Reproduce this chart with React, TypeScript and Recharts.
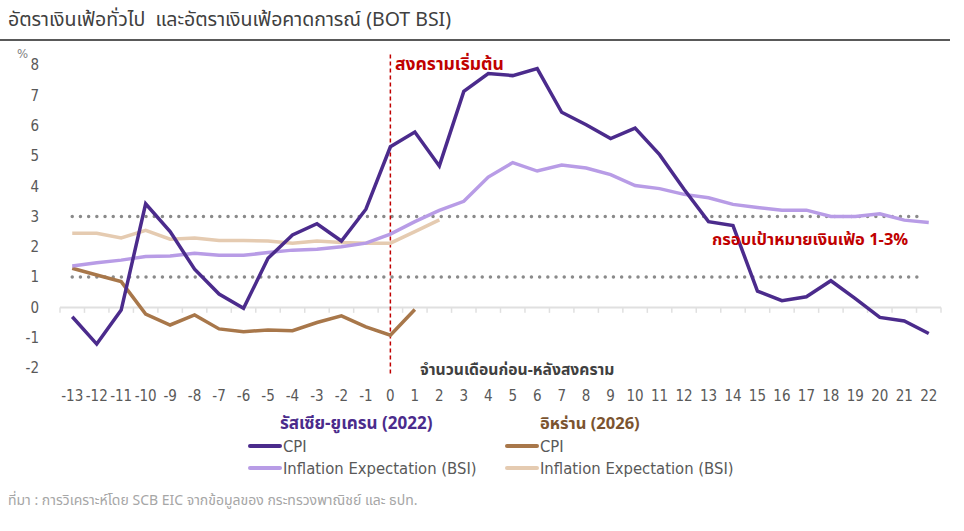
import { LineChart, Line, XAxis, YAxis, ReferenceLine } from 'recharts';

document.body.style.margin = '0';

// months before / after the start of each war
const months = [
  -13, -12, -11, -10, -9, -8, -7, -6, -5, -4, -3, -2, -1, 0, 1, 2, 3, 4,
  5, 6, 7, 8, 9, 10, 11, 12, 13, 14, 15, 16, 17, 18, 19, 20, 21, 22,
];
const yTicks = [-2, -1, 0, 1, 2, 3, 4, 5, 6, 7, 8];

// Russia-Ukraine (2022)
const russiaCpi = [
  -0.31, -1.21, -0.09, 3.42, 2.5, 1.26, 0.44, -0.03, 1.62, 2.39, 2.76, 2.19, 3.24,
  5.3, 5.79, 4.67, 7.13, 7.72, 7.65, 7.88, 6.44, 6.03, 5.57, 5.92, 5.04, 3.9,
  2.83, 2.7, 0.54, 0.22, 0.35, 0.88, 0.29, -0.33, -0.45, -0.86,
];
const russiaBsi = [
  1.37, 1.47, 1.56, 1.68, 1.7, 1.79, 1.72, 1.72, 1.81, 1.89, 1.92, 2.0, 2.12,
  2.42, 2.83, 3.2, 3.5, 4.3, 4.78, 4.5, 4.7, 4.6, 4.38, 4.02, 3.92, 3.73,
  3.62, 3.4, 3.3, 3.21, 3.21, 3.0, 3.0, 3.09, 2.88, 2.8,
];

// Iran (2026)
const iranCpi = [
  1.29, 1.07, 0.85, -0.22, -0.58, -0.25, -0.71, -0.8, -0.75, -0.77, -0.5, -0.28, -0.64,
  -0.92, -0.07,
];
const iranBsi = [
  2.45, 2.45, 2.29, 2.54, 2.25, 2.29, 2.21, 2.21, 2.19, 2.12, 2.19, 2.14, 2.12,
  2.12, 2.5, 2.89,
];

const targetBand = [1, 3];

const data = months.map((m, i) => ({
  m,
  russiaCpi: russiaCpi[i],
  russiaBsi: russiaBsi[i],
  iranCpi: iranCpi[i] ?? null,
  iranBsi: iranBsi[i] ?? null,
}));

const COLORS = {
  russiaCpi: '#4b2b8c',
  russiaBsi: '#b89ce6',
  iranCpi: '#a8774a',
  iranBsi: '#e5cbb1',
};

const thai = '"Noto Sans Thai", Tahoma, "Noto Sans", "DejaVu Sans", sans-serif';
const narrow = '"Liberation Sans Narrow", "DejaVu Sans Condensed", "Noto Sans", sans-serif';

const boundaries = [...months.map((m) => m - 0.5), 22.5];

const LegendRow = ({ x, y, color, label }: { x: number; y: number; color: string; label: string }) => (
  <div style={{ position: 'absolute', left: x, top: y - 11, height: 22, display: 'flex', alignItems: 'center' }}>
    <div style={{ width: 34, height: 4, background: color, borderRadius: 2 }} />
    <span style={{ fontFamily: narrow, fontSize: 16.5, color: '#595959', marginLeft: 1 }}>{label}</span>
  </div>
);

export default function App() {
  return (
    <div style={{ position: 'relative', width: 964, height: 531, background: '#fff', overflow: 'hidden' }}>
      <div style={{ position: 'absolute', left: 8, top: 5, fontFamily: thai, fontSize: 19.5, fontWeight: 400, color: '#404040' }}>
        อัตราเงินเฟ้อทั่วไป&nbsp; และอัตราเงินเฟ้อคาดการณ์ (BOT BSI)
      </div>
      <div style={{ position: 'absolute', left: 0, top: 39, width: 950, height: 2, background: '#595959' }} />
      <div style={{ position: 'absolute', left: 17, top: 46, fontFamily: narrow, fontSize: 13, color: '#7f7f7f' }}>%</div>

      <div style={{ position: 'absolute', left: 0, top: 0 }}>
        <LineChart width={964} height={420} data={data} margin={{ top: 65, right: 23, bottom: 0, left: 0 }}>
          <XAxis
            dataKey="m"
            type="number"
            domain={[-13.5, 22.5]}
            ticks={months}
            interval={0}
            axisLine={false}
            tickLine={false}
            tickMargin={16}
            height={52}
            tick={{ fontSize: 15, fill: '#595959', fontFamily: narrow }}
          />
          <YAxis
            domain={[-2, 8]}
            ticks={yTicks}
            interval={0}
            axisLine={false}
            tickLine={false}
            tickMargin={15}
            width={60}
            tick={{ fontSize: 15, fill: '#595959', fontFamily: narrow }}
          />
          <ReferenceLine y={0} stroke="#e0e0e0" strokeWidth={2} />
          {boundaries.map((b) => (
            <ReferenceLine
              key={b}
              segment={[{ x: b, y: 0 }, { x: b, y: -0.18 }]}
              stroke="#e0e0e0"
              strokeWidth={1.5}
            />
          ))}
          {targetBand.map((v) => (
            <ReferenceLine
              key={v}
              segment={[{ x: -13, y: v }, { x: 21.8, y: v }]}
              stroke="#8a8a8a"
              strokeWidth={3.5}
              strokeDasharray="0 8.2"
              strokeLinecap="round"
            />
          ))}
          <ReferenceLine
            segment={[{ x: 0, y: 8.35 }, { x: 0, y: -2.2 }]}
            ifOverflow="visible"
            stroke="#c00000"
            strokeWidth={1.5}
            strokeDasharray="4 3"
          />
          <Line dataKey="iranBsi" stroke={COLORS.iranBsi} strokeWidth={3.5} dot={false} isAnimationActive={false} />
          <Line dataKey="iranCpi" stroke={COLORS.iranCpi} strokeWidth={3.5} dot={false} isAnimationActive={false} />
          <Line dataKey="russiaBsi" stroke={COLORS.russiaBsi} strokeWidth={3.5} dot={false} isAnimationActive={false} />
          <Line dataKey="russiaCpi" stroke={COLORS.russiaCpi} strokeWidth={3.5} dot={false} isAnimationActive={false} />
        </LineChart>
      </div>

      <div style={{ position: 'absolute', left: 395, top: 51, fontFamily: thai, fontSize: 17.5, fontWeight: 700, color: '#c00000' }}>
        สงครามเริ่มต้น
      </div>
      <div style={{ position: 'absolute', left: 712, top: 227, fontFamily: thai, fontSize: 16.5, fontWeight: 700, color: '#c00000' }}>
        กรอบเป้าหมายเงินเฟ้อ 1-3%
      </div>
      <div style={{ position: 'absolute', left: 420, top: 358, fontFamily: thai, fontSize: 15.7, fontWeight: 700, color: '#404040' }}>
        จำนวนเดือนก่อน-หลังสงคราม
      </div>

      <div style={{ position: 'absolute', left: 280, top: 411, fontFamily: thai, fontSize: 17, fontWeight: 700, color: '#4b2b8c' }}>
        รัสเซีย-ยูเครน (2022)
      </div>
      <div style={{ position: 'absolute', left: 540, top: 411, fontFamily: thai, fontSize: 16.5, fontWeight: 700, color: '#7b5430' }}>
        อิหร่าน (2026)
      </div>
      <LegendRow x={248} y={446} color={COLORS.russiaCpi} label="CPI" />
      <LegendRow x={248} y={468} color={COLORS.russiaBsi} label="Inflation Expectation (BSI)" />
      <LegendRow x={505} y={446} color={COLORS.iranCpi} label="CPI" />
      <LegendRow x={505} y={468} color={COLORS.iranBsi} label="Inflation Expectation (BSI)" />

      <div style={{ position: 'absolute', left: 8, top: 490, fontFamily: thai, fontSize: 14, color: '#a6a6a6' }}>
        ที่มา : การวิเคราะห์โดย SCB EIC จากข้อมูลของ กระทรวงพาณิชย์ และ ธปท.
      </div>
    </div>
  );
}
